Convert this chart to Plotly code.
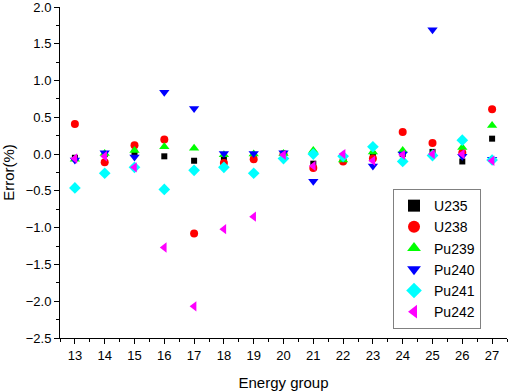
import plotly.graph_objects as go

groups = list(range(13, 28))

u235  = [-0.05, 0.00, 0.02, -0.03, -0.09, -0.05, -0.03, 0.00, -0.13, -0.08, 0.00, 0.00, 0.03, -0.10, 0.21]
u238  = [0.41, -0.11, 0.12, 0.20, -1.08, -0.12, -0.07, 0.00, -0.19, -0.10, -0.06, 0.30, 0.15, 0.02, 0.61]
pu239 = [-0.07, 0.01, 0.05, 0.10, 0.08, -0.01, 0.00, 0.01, 0.05, -0.08, 0.03, 0.05, 0.01, 0.09, 0.39]
pu240 = [-0.08, 0.02, -0.04, 0.84, 0.62, 0.01, 0.01, 0.02, -0.37, -0.05, -0.16, 0.00, 1.69, -0.03, -0.07]
pu241 = [-0.46, -0.26, -0.18, -0.48, -0.22, -0.18, -0.26, -0.06, 0.00, -0.03, 0.10, -0.10, -0.02, 0.19, -0.08]
pu242 = [-0.06, -0.03, -0.18, -1.27, -2.07, -1.02, -0.85, -0.01, -0.16, 0.00, -0.09, -0.01, 0.00, 0.00, -0.09]

series = [
    ("U235", u235, "square", "#000000", 6),
    ("U238", u238, "circle", "#ff0000", 8),
    ("Pu239", pu239, "triangle-up", "#00ff00", 9),
    ("Pu240", pu240, "triangle-down", "#0000ff", 9),
    ("Pu241", pu241, "diamond", "#00ffff", 9),
    ("Pu242", pu242, "triangle-left", "#ff00ff", 9),
]

fig = go.Figure()
for name, vals, sym, col, sz in series:
    fig.add_trace(go.Scatter(
        x=groups, y=vals, mode="markers", name=name,
        marker=dict(symbol=sym, color=col, size=sz, line=dict(width=0)),
    ))

axis_common = dict(
    showgrid=False, zeroline=False, showline=True, linecolor="#000000", linewidth=1,
    ticks="outside", ticklen=5, tickwidth=1, tickcolor="#000000",
    tickfont=dict(family="Liberation Sans, Arial, sans-serif", size=13, color="#000000"),
    mirror=False, automargin=False, ticklabeloverflow="allow",
)

fig.update_layout(
    width=512, height=392,
    margin=dict(l=60, r=5, t=7, b=54),
    paper_bgcolor="white", plot_bgcolor="white",
    font=dict(family="Liberation Sans, Arial, sans-serif", color="#000000"),
    xaxis=dict(
        range=[12.5, 27.5], tickmode="linear", tick0=13, dtick=1,
        minor=dict(ticks="outside", ticklen=3, tick0=12.5, dtick=1, tickcolor="#000000"),
        title=dict(text="Energy group", font=dict(size=15)),
        **axis_common,
    ),
    yaxis=dict(
        range=[-2.5, 2.0001], tickmode="linear", tick0=-2.5, dtick=0.5, tickformat=".1f",
        minor=dict(ticks="outside", ticklen=3, tick0=-2.25, dtick=0.5, tickcolor="#000000"),
        title=dict(text="Error(%)", font=dict(size=15)),
        **axis_common,
    ),
    legend=dict(
        x=0.745, y=0.45, xanchor="left", yanchor="top",
        bgcolor="white", bordercolor="#808080", borderwidth=1,
        font=dict(size=14, family="Liberation Sans, Arial, sans-serif"),
        itemsizing="constant", tracegroupgap=0,
    ),
    showlegend=True,
)

fig.write_html(
    "out.html",
    config={"displayModeBar": False},
    post_script="document.body.style.margin='0';document.body.style.overflow='hidden';",
)
